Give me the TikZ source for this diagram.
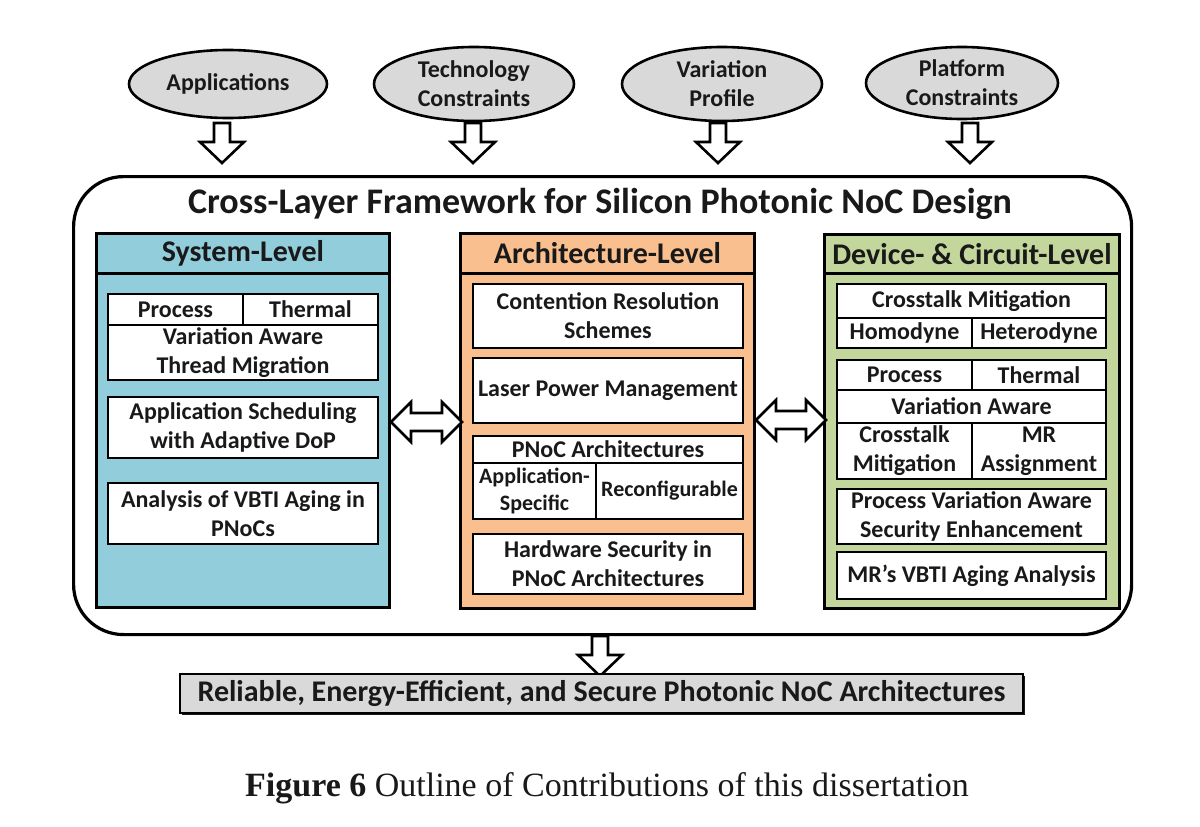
\documentclass[tikz,border=0pt]{standalone}
\usepackage{fontspec}
\setmainfont{Carlito}
\newfontfamily\capfont{Liberation Serif}
\usetikzlibrary{shapes.geometric,calc}
\definecolor{sysblue}{RGB}{146,205,220}
\definecolor{archorange}{RGB}{250,191,143}
\definecolor{devgreen}{RGB}{195,214,155}
\definecolor{greyfill}{RGB}{217,217,217}
\definecolor{ink}{RGB}{25,25,25}
\newcommand\fs[2]{\fontsize{#1}{#2}\selectfont}
\newcommand\blockdown[1]{\draw[blockarrow] (#1) ++(-8,0) -- ++(16,0) -- ++(0,19) -- ++(14,0) -- ++(-22,21) -- ++(-22,-21) -- ++(14,0) -- cycle;}
\newcommand\blockdouble[2]{\draw[blockarrow] (#1) -- ++(20,-20) -- ++(0,11) -- ++(#2,0) -- ++(0,-11) -- ++(20,20) -- ++(-20,20) -- ++(0,-11) -- ++(-#2,0) -- ++(0,11) -- cycle;}
\begin{document}
\begin{tikzpicture}[x=1pt,y=-1pt,
  every node/.style={text=ink,font=\bfseries},
  inputell/.style={ellipse,draw,line width=2.6pt,fill=greyfill,inner sep=0pt,align=center,font=\bfseries\fs{24}{29}},
  blockarrow/.style={draw,line width=2.6pt,fill=white,line join=miter},
  column/.style={draw,line width=3pt,anchor=north west,inner sep=0pt},
  colhead/.style={draw,line width=3pt,anchor=north west,inner sep=0pt,font=\bfseries\fs{30}{34}},
  cell/.style={draw,line width=2pt,fill=white,anchor=north west,inner sep=0pt,align=center,font=\bfseries\fs{24}{29}},
  smallcell/.style={cell,font=\bfseries\fs{22}{27}}
]
\useasboundingbox (0,0) rectangle (1200,827);
\fill[white] (0,0) rectangle (1200,827);

% input ellipses
\node[inputell,minimum width=198pt,minimum height=68pt] (app) at (228,84) {Applications};
\node[inputell,minimum width=200pt,minimum height=74pt] (tech) at (474,84) {Technology\\Constraints};
\node[inputell,minimum width=200pt,minimum height=74pt] (var) at (722,84) {Variation\\Profile};
\node[inputell,minimum width=192pt,minimum height=72pt] (plat) at (962,83) {Platform\\Constraints};

% main frame
\node[draw,line width=3.2pt,rounded corners=50pt,anchor=north west,minimum width=1058pt,minimum height=458pt,inner sep=0pt] (frame) at (72,175) {};
\node[font=\bfseries\fs{36}{40}] (title) at (600,204) {Cross-Layer Framework for Silicon Photonic NoC Design};

% arrows from inputs
\coordinate (appA) at (222,123);
\coordinate (techA) at (473,123);
\coordinate (varA) at (718,123);
\coordinate (platA) at (970,123);
\blockdown{appA}
\blockdown{techA}
\blockdown{varA}
\blockdown{platA}

% System-level column
\node[column,fill=sysblue,minimum width=293pt,minimum height=374pt] (sys) at (95,232) {};
\node[colhead,fill=sysblue,minimum width=293pt,minimum height=40pt] (sysh) at (95,232) {System-Level};
\node[cell,minimum width=135pt,minimum height=31pt] (s1a) at (107,293) {Process};
\node[cell,minimum width=135pt,minimum height=31pt] (s1b) at (242,293) {Thermal};
\node[cell,minimum width=270pt,minimum height=55pt] (s1c) at (107,324) {Variation Aware\\Thread Migration};
\node[cell,minimum width=270pt,minimum height=61pt] (s2) at (107,396) {Application Scheduling\\with Adaptive DoP};
\node[cell,minimum width=270pt,minimum height=61pt] (s3) at (107,482) {Analysis of VBTI Aging in\\PNoCs};

% Architecture-level column
\node[column,fill=archorange,minimum width=294pt,minimum height=375pt] (arch) at (459,232) {};
\node[colhead,fill=archorange,minimum width=294pt,minimum height=40pt] (archh) at (459,232) {Architecture-Level};
\node[cell,minimum width=270pt,minimum height=64pt] (a1) at (472,283) {Contention Resolution\\Schemes};
\node[cell,minimum width=270pt,minimum height=65pt] (a2) at (472,357) {Laser Power Management};
\node[cell,minimum width=270pt,minimum height=27pt] (a3) at (472,435) {PNoC Architectures};
\node[smallcell,minimum width=123pt,minimum height=56pt] (a3b) at (472,462) {Application-\\Specific};
\node[smallcell,minimum width=147pt,minimum height=56pt] (a3c) at (595,462) {Reconfigurable};
\node[cell,minimum width=270pt,minimum height=60pt] (a4) at (472,533) {Hardware Security in\\PNoC Architectures};

% Device- & circuit-level column
\node[column,fill=devgreen,minimum width=295pt,minimum height=374pt] (dev) at (823,233) {};
\node[colhead,fill=devgreen,minimum width=295pt,minimum height=39pt] (devh) at (823,233) {Device- \& Circuit-Level};
\node[cell,minimum width=269pt,minimum height=34pt] (d1) at (836,283) {Crosstalk Mitigation};
\node[cell,minimum width=135pt,minimum height=30pt] (d1b) at (836,317) {Homodyne};
\node[cell,minimum width=134pt,minimum height=30pt] (d1c) at (971,317) {Heterodyne};
\node[cell,minimum width=135pt,minimum height=30pt] (d2a) at (836,359) {Process};
\node[cell,minimum width=134pt,minimum height=30pt] (d2b) at (971,359) {Thermal};
\node[cell,minimum width=269pt,minimum height=33pt] (d2c) at (836,389) {Variation Aware};
\node[cell,minimum width=135pt,minimum height=56pt] (d2d) at (836,422) {Crosstalk\\Mitigation};
\node[cell,minimum width=134pt,minimum height=56pt] (d2e) at (971,422) {MR\\Assignment};
\node[cell,minimum width=269pt,minimum height=55pt] (d3) at (836,488) {Process Variation Aware\\Security Enhancement};
\node[cell,minimum width=269pt,minimum height=47pt] (d4) at (836,551) {MR’s VBTI Aging Analysis};

% double arrows between columns
\coordinate (dl) at (sys.east |- 0,422);
\coordinate (dr) at (arch.east |- 0,420);
\blockdouble{dl}{31}
\blockdouble{dr}{30}

% output
\coordinate (outA) at (600,636);
\blockdown{outA}
\fill[ink] (182,676) rectangle (1025,715);
\node[draw,line width=2pt,fill=greyfill,anchor=north west,minimum width=843pt,minimum height=39pt,inner sep=0pt,font=\bfseries\fs{30}{34}] (out) at (179,673) {Reliable, Energy-Efficient, and Secure Photonic NoC Architectures};

% caption
\node[font=\capfont\fs{34}{38},text=ink] (cap) at (607,788) {\textbf{Figure 6} Outline of Contributions of this dissertation};
\end{tikzpicture}
\end{document}
